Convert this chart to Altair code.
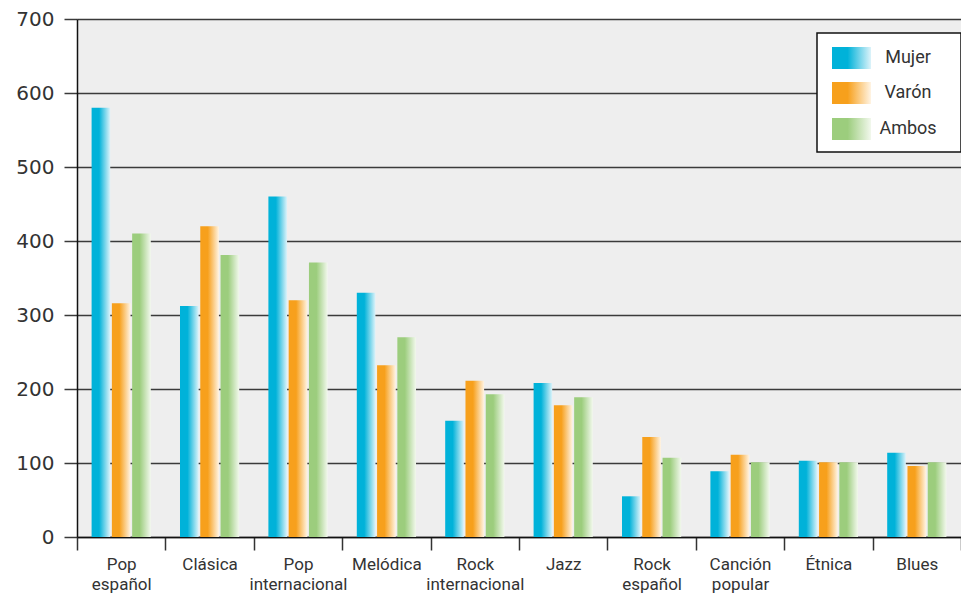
import altair as alt
import pandas as pd

categorias = ["Pop español", "Clásica", "Pop internacional", "Melódica",
              "Rock internacional", "Jazz", "Rock español", "Canción popular",
              "Étnica", "Blues"]
mujer = [580, 312, 460, 330, 157, 208, 55, 89, 103, 114]
varon = [316, 420, 320, 232, 211, 178, 135, 111, 101, 96]
ambos = [410, 381, 371, 270, 193, 189, 107, 101, 101, 101]
series = ["Mujer", "Varón", "Ambos"]
ticks_y = [0, 100, 200, 300, 400, 500, 600, 700]

fuertes = ["#00b2d9", "#f7a01c", "#9ccd7d"]
claros = ["#ddf3fa", "#fff4e4", "#f2f8ed"]

rows = []
for s, vals in zip(series, [mujer, varon, ambos]):
    for c, v in zip(categorias, vals):
        rows.append({"genero": c, "serie": s, "valor": v})
df = pd.DataFrame(rows)


def grad(i):
    return alt.Gradient(
        gradient="linear", x1=0, x2=1, y1=0, y2=0,
        stops=[alt.GradientStop(offset=0, color=fuertes[i]),
               alt.GradientStop(offset=0.4, color=fuertes[i]),
               alt.GradientStop(offset=1, color=claros[i])])


x = alt.X("genero:N", sort=categorias,
          scale=alt.Scale(paddingInner=0, paddingOuter=0),
          axis=alt.Axis(title=None, labelAngle=0, tickBand="extent",
                        labelExpr="split(datum.label, ' ')",
                        labelFont="Roboto", labelFontSize=17, labelLineHeight=20,
                        labelColor="#333333", labelPadding=6,
                        domainColor="#111111", domainWidth=1.5,
                        tickColor="#333333", tickWidth=1.5, tickSize=13, grid=False))
y = alt.Y("valor:Q", scale=alt.Scale(domain=[0, 700], nice=False),
          axis=alt.Axis(title=None, values=ticks_y, grid=True,
                        gridColor="#3a3a3a", gridWidth=1.5,
                        domainColor="#111111", domainWidth=1.5,
                        tickColor="#3a3a3a", tickWidth=1.5, tickSize=13,
                        labelFont="DejaVu Sans", labelFontSize=20,
                        labelColor="#333333", labelPadding=10))
xo = alt.XOffset("serie:N", sort=series,
                 scale=alt.Scale(domain=series, paddingInner=0.08, paddingOuter=0.72))

layers = []
for i, s in enumerate(series):
    layers.append(
        alt.Chart(df).transform_filter(alt.datum.serie == s)
        .mark_bar(fill=grad(i))
        .encode(x=x, y=y, xOffset=xo)
    )

# legend box
leg_df = pd.DataFrame({"serie": series})
layers.append(
    alt.Chart(leg_df).transform_filter(alt.datum.serie == "Mujer")
    .mark_rect(fill="white", stroke="#111111", strokeWidth=1.5)
    .encode(x=alt.value(740), x2=alt.value(884), y=alt.value(14), y2=alt.value(133))
)
sw_top = [28, 63, 99]
for i, s in enumerate(series):
    layers.append(
        alt.Chart(leg_df).transform_filter(alt.datum.serie == s)
        .mark_rect(fill=grad(i))
        .encode(x=alt.value(755), x2=alt.value(794),
                y=alt.value(sw_top[i]), y2=alt.value(sw_top[i] + 22))
    )
    layers.append(
        alt.Chart(leg_df).transform_filter(alt.datum.serie == s)
        .mark_text(align="center", baseline="middle", fontSize=18,
                   font="Roboto", color="#333333")
        .encode(x=alt.value(831), y=alt.value(sw_top[i] + 11), text="serie:N")
    )

chart = alt.layer(*layers).properties(
    width=884, height=518,
    autosize=alt.AutoSizeParams(type="none"),
    padding={"left": 69, "top": 11, "right": 0, "bottom": 57},
).configure_view(fill="#eeeeee", stroke="transparent")

chart.save("out.html", embed_options={"renderer": "svg", "actions": False})
